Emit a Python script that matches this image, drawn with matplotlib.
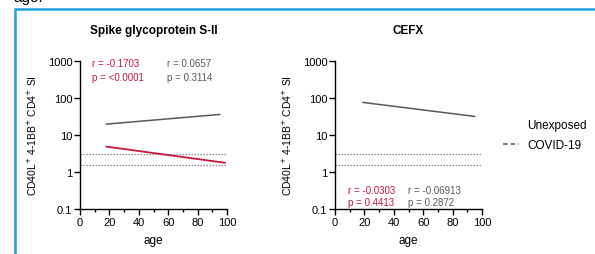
import matplotlib
matplotlib.use("Agg")
import matplotlib.pyplot as plt
from matplotlib.patches import Rectangle
from matplotlib.lines import Line2D
from matplotlib.ticker import FixedLocator, NullLocator

plt.rcParams['font.family'] = ['Liberation Sans', 'DejaVu Sans']

# data
titles = ["Spike glycoprotein S-II", "CEFX"]
xticks = [0, 20, 40, 60, 80, 100]
yticks = [0.1, 1, 10, 100, 1000]
ytick_labels = ["0.1", "1", "10", "100", "1000"]
threshold_levels = [3.0, 1.5]

# regression lines (x endpoints, y endpoints)
spike_unexp_x = [18, 95]
spike_unexp_y = [19.7, 35.9]
spike_covid_x = [18, 98.5]
spike_covid_y = [4.85, 1.78]
cefx_unexp_x = [19, 95]
cefx_unexp_y = [76, 31.8]

spike_stats = {"covid": ("r = -0.1703", "p = <0.0001"), "unexp": ("r = 0.0657", "p = 0.3114")}
cefx_stats = {"covid": ("r = -0.0303", "p = 0.4413"), "unexp": ("r = -0.06913", "p = 0.2872")}

RED = '#c8173f'
GREY = '#5a5a5a'
W, H = 595, 255

fig = plt.figure(figsize=(W / 100, H / 100), dpi=100)

def ax_at(x0, x1, y_top, y_bot):
    return fig.add_axes([x0 / W, 1 - y_bot / H, (x1 - x0) / W, (y_bot - y_top) / H])

ax1 = ax_at(80, 227, 62, 210)
ax2 = ax_at(335, 482, 62, 210)

def style(ax, title):
    ax.set_yscale('log')
    ax.set_xlim(0, 100)
    ax.set_ylim(0.1, 1000)
    ax.spines['top'].set_visible(False)
    ax.spines['right'].set_visible(False)
    for s in ('left', 'bottom'):
        ax.spines[s].set_linewidth(1.0)
    ax.xaxis.set_major_locator(FixedLocator(xticks))
    ax.xaxis.set_minor_locator(FixedLocator([10, 30, 50, 70, 90]))
    ax.yaxis.set_major_locator(FixedLocator(yticks))
    ax.yaxis.set_minor_locator(NullLocator())
    ax.set_yticklabels(ytick_labels)
    ax.tick_params(axis='both', which='major', labelsize=8, length=4, width=1.0, pad=1.5)
    ax.tick_params(axis='x', which='minor', length=2, width=1.0)
    ax.set_xlabel('age', fontsize=8.5, labelpad=5)
    ax.set_ylabel('CD40L$^{+}$ 4-1BB$^{+}$ CD4$^{+}$ SI', fontsize=7.5, labelpad=6)
    ax.set_title(title, fontsize=8.5, fontweight='bold', pad=20)
    for lvl in threshold_levels:
        ax.axhline(lvl, color='#888888', lw=0.9, ls=(0, (1.2, 1.2)), zorder=1)

style(ax1, titles[0])
style(ax2, titles[1])

ax1.plot(spike_unexp_x, spike_unexp_y, color=GREY, lw=1.1, zorder=3)
ax1.plot(spike_covid_x, spike_covid_y, color=RED, lw=1.3, zorder=3)
ax2.plot(cefx_unexp_x, cefx_unexp_y, color=GREY, lw=1.1, zorder=3)

def stats(ax, st, xr, xg, y1, y2):
    kw = dict(fontsize=7, transform=ax.transAxes, va='center')
    ax.text(xr, y1, st["covid"][0], color=RED, **kw)
    ax.text(xr, y2, st["covid"][1], color=RED, **kw)
    ax.text(xg, y1, st["unexp"][0], color=GREY, **kw)
    ax.text(xg, y2, st["unexp"][1], color=GREY, **kw)

stats(ax1, spike_stats, (92 - 80) / 147, (167 - 80) / 147, (210 - 64) / 148, (210 - 78) / 148)
stats(ax2, cefx_stats, (348 - 335) / 147, (408 - 335) / 147, (210 - 191) / 148, (210 - 203) / 148)

# legend
handles = [Line2D([], [], color='none', lw=1.2),
           Line2D([], [], color=GREY, lw=1.1, ls=(0, (3, 2)))]
fig.legend(handles, ['Unexposed', 'COVID-19'], loc='center left',
           bbox_to_anchor=(492 / W, 1 - 136 / H), frameon=False, fontsize=8.5,
           handlelength=1.35, handletextpad=0.75, labelspacing=0.75)

# blue frame
fig.patches.append(Rectangle((15 / W, -0.1), 1.2, (1 - 9.5 / H) + 0.1, transform=fig.transFigure,
                             fill=False, edgecolor='#1ea0e2', lw=1.8, zorder=0))
fig.text(13 / W, 1 - 2 / H, 'age.', fontsize=11, va='baseline', ha='left')

fig.savefig('out.png', dpi=100)
